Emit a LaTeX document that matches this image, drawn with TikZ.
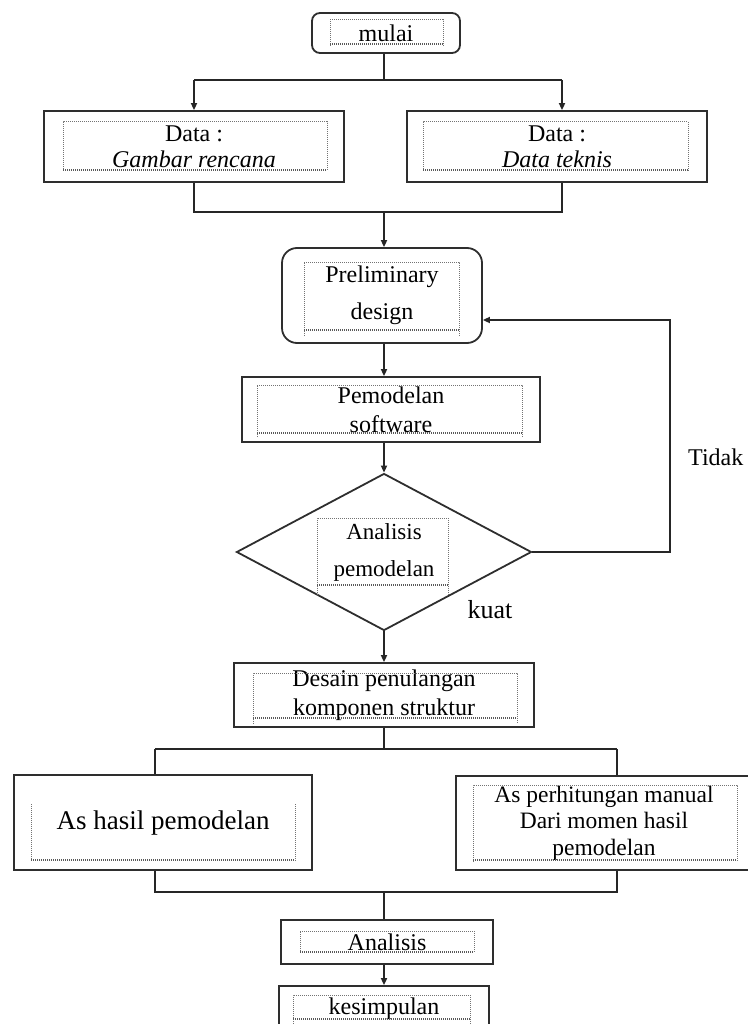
\documentclass[tikz,border=0pt]{standalone}
\usepackage{fontspec}
\setmainfont{Liberation Serif}
\usetikzlibrary{shapes.geometric,arrows.meta}
\begin{document}
\begin{tikzpicture}[x=1pt,y=-1pt,
  box/.style={draw=black!82, line width=1.8pt, inner sep=0pt, align=center,
    font=\fontsize{24}{26}\selectfont},
  rbox/.style={box, rounded corners=#1},
  dia/.style={draw=black!82, line width=1.8pt, shape=diamond, inner sep=0pt, aspect=1.88,
    align=center, font=\fontsize{23}{37}\selectfont},
  inner/.style={draw=black!55, line width=1pt, dash pattern=on 1pt off 1pt},
  innerb/.style={draw=black!65, line width=1.6pt, dash pattern=on 1pt off 1pt},
  conn/.style={draw=black!85, line width=2pt},
  arr/.style={conn, -{Triangle[length=7pt,width=6pt]}},
  lbl/.style={inner sep=0pt, font=\fontsize{24}{26}\selectfont}
]
\useasboundingbox (0,0) rectangle (747,1024);

% nodes
\node[rbox=8pt, minimum width=148pt, minimum height=40pt] (mulai) at (386,33) {mulai};
\node[box, minimum width=300pt, minimum height=71pt] (d1) at (194,146.5) {Data :\\ \textit{Gambar rencana}};
\node[box, minimum width=300pt, minimum height=71pt] (d2) at (557,146.5) {Data :\\ \textit{Data teknis}};
\node[rbox=15pt, minimum width=200pt, minimum height=95pt, font=\fontsize{24}{37}\selectfont] (pre) at (382,295.5) {Preliminary\\ design};
\node[box, minimum width=298pt, minimum height=65pt, font=\fontsize{24}{29}\selectfont] (pem) at (391,409.5) {Pemodelan\\ software};
\node[dia, minimum width=295pt, minimum height=157pt] (dia) at (384,552) {Analisis\\ pemodelan};
\node[box, minimum width=300pt, minimum height=64pt, font=\fontsize{24}{29}\selectfont] (des) at (384,695) {Desain penulangan\\ komponen struktur};
\node[box, minimum width=298pt, minimum height=95pt, font=\fontsize{27}{30}\selectfont] (asl) at (163,822.5) {As hasil pemodelan};
\node[box, minimum width=296pt, minimum height=94pt, font=\fontsize{23.5}{26.5}\selectfont] (asr) at (604,823) {As perhitungan manual\\ Dari momen hasil\\ pemodelan};
\node[box, minimum width=212pt, minimum height=44pt] (ana) at (387,942) {Analisis};
\node[box, minimum width=210pt, minimum height=46pt] (kes) at (384,1009) {kesimpulan};

\node[lbl, anchor=west] (tidak) at (688,457) {Tidak};
\node[lbl, font=\fontsize{26}{28}\selectfont] (kuat) at (490,610) {kuat};

% inner dotted frames
\draw[inner] (330,46) -- (330,20) -- (443,20) -- (443,46);
\draw[innerb] (330,44) -- (443,44);
\draw[inner] (63,171) -- (63,122) -- (327,122) -- (327,171);
\draw[innerb] (63,170) -- (327,170);
\draw[inner] (423,171) -- (423,122) -- (688,122) -- (688,171);
\draw[innerb] (423,170) -- (688,170);
\draw[inner] (304,336) -- (304,262) -- (459,262) -- (459,336);
\draw[innerb] (304,330) -- (459,330);
\draw[inner] (257,437) -- (257,385) -- (522,385) -- (522,437);
\draw[innerb] (257,433) -- (522,433);
\draw[inner] (317,595) -- (317,518) -- (448,518) -- (448,595);
\draw[innerb] (317,585) -- (448,585);
\draw[inner] (253,724) -- (253,673) -- (517,673) -- (517,724);
\draw[innerb] (253,718) -- (517,718);
\draw[inner] (31,861) -- (31,803);
\draw[inner] (295,861) -- (295,803);
\draw[innerb] (31,860) -- (295,860);
\draw[inner] (473,862) -- (473,785) -- (737,785) -- (737,862);
\draw[innerb] (473,860) -- (737,860);
\draw[inner] (300,953) -- (300,931) -- (474,931) -- (474,953);
\draw[innerb] (300,952) -- (474,952);
\draw[inner] (293,1024) -- (293,995) -- (470,995) -- (470,1024);
\draw[innerb] (293,1019) -- (470,1019);

% connectors
\coordinate (s1) at (194,80);
\coordinate (s2) at (562,80);
\coordinate (m1) at (194,212);
\coordinate (m2) at (562,212);
\coordinate (mc) at (384,212);
\coordinate (lp) at (670,320);
\coordinate (t1) at (155,749);
\coordinate (t2) at (617,749);
\coordinate (b1) at (155,892);
\coordinate (b2) at (617,892);
\coordinate (bc) at (384,892);

\draw[conn] (mulai.south -| mc) -- (mc |- s1);
\draw[conn] (s1) -- (s2);
\draw[arr] (s1) -- (d1.north);
\draw[arr] (s2) -- (s2 |- d2.north);
\draw[conn] (d1.south) -- (m1) -- (m2) -- (m2 |- d2.south);
\draw[arr] (mc) -- (mc |- pre.north);
\draw[arr] (mc |- pre.south) -- (mc |- pem.north);
\draw[arr] (mc |- pem.south) -- (dia.north);
\draw[arr] (dia.east) -| (lp) -- (lp -| pre.east);
\draw[arr] (dia.south) -- (des.north);
\draw[conn] (des.south) -- (des.south |- t1);
\draw[conn] (t1) -- (t2);
\draw[conn] (t1) -- (t1 |- asl.north);
\draw[conn] (t2) -- (t2 |- asr.north);
\draw[conn] (b1 |- asl.south) -- (b1) -- (b2) -- (b2 |- asr.south);
\draw[conn] (bc) -- (bc |- ana.north);
\draw[arr] (bc |- ana.south) -- (bc |- kes.north);
\end{tikzpicture}
\end{document}
